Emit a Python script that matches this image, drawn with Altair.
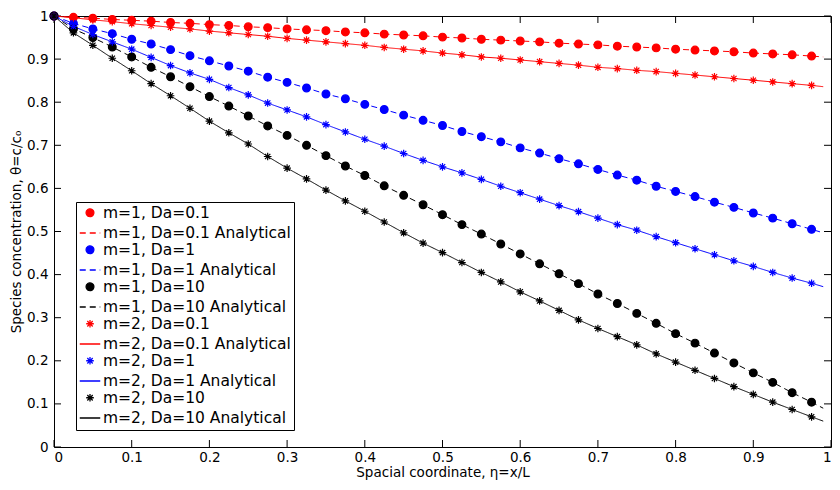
import altair as alt
import pandas as pd

# ---------------- data ----------------
x_pts = [0.0, 0.025, 0.05, 0.075, 0.1, 0.125, 0.15, 0.175, 0.2, 0.225,
         0.25, 0.275, 0.3, 0.325, 0.35, 0.375, 0.4, 0.425, 0.45, 0.475,
         0.5, 0.525, 0.55, 0.575, 0.6, 0.625, 0.65, 0.675, 0.7, 0.725,
         0.75, 0.775, 0.8, 0.825, 0.85, 0.875, 0.9, 0.925, 0.95, 0.975]

m1_da01 = [1.000, 0.997, 0.995, 0.992, 0.990, 0.988, 0.985, 0.983, 0.980, 0.978,
           0.975, 0.973, 0.970, 0.968, 0.966, 0.963, 0.961, 0.958, 0.956, 0.954,
           0.951, 0.949, 0.946, 0.944, 0.942, 0.940, 0.937, 0.935, 0.933, 0.930,
           0.928, 0.926, 0.923, 0.921, 0.919, 0.917, 0.914, 0.912, 0.910, 0.907]

m1_da1 = [1.000, 0.983, 0.970, 0.959, 0.946, 0.935, 0.922, 0.908, 0.896, 0.884,
          0.872, 0.858, 0.846, 0.833, 0.819, 0.808, 0.795, 0.783, 0.770, 0.758,
          0.746, 0.732, 0.720, 0.708, 0.694, 0.682, 0.669, 0.657, 0.644, 0.631,
          0.619, 0.605, 0.593, 0.581, 0.568, 0.556, 0.543, 0.531, 0.518, 0.505]

m1_da10 = [1.000, 0.970, 0.950, 0.928, 0.905, 0.881, 0.859, 0.836, 0.813, 0.791,
           0.768, 0.745, 0.723, 0.700, 0.676, 0.652, 0.630, 0.606, 0.584, 0.562,
           0.539, 0.516, 0.494, 0.471, 0.448, 0.425, 0.402, 0.379, 0.355, 0.333,
           0.310, 0.287, 0.263, 0.241, 0.218, 0.195, 0.172, 0.150, 0.126, 0.104]

m2_da01 = [1.000, 0.996, 0.991, 0.987, 0.982, 0.978, 0.974, 0.970, 0.965, 0.961,
           0.957, 0.953, 0.948, 0.944, 0.940, 0.936, 0.932, 0.927, 0.923, 0.919,
           0.914, 0.910, 0.905, 0.902, 0.898, 0.894, 0.890, 0.886, 0.881, 0.878,
           0.874, 0.871, 0.867, 0.863, 0.859, 0.855, 0.851, 0.847, 0.843, 0.839]

m2_da1 = [1.000, 0.976, 0.957, 0.940, 0.923, 0.904, 0.885, 0.868, 0.853, 0.834,
          0.817, 0.798, 0.782, 0.766, 0.748, 0.731, 0.714, 0.698, 0.681, 0.665,
          0.650, 0.636, 0.621, 0.605, 0.590, 0.575, 0.560, 0.546, 0.531, 0.516,
          0.503, 0.488, 0.474, 0.460, 0.446, 0.432, 0.419, 0.405, 0.392, 0.380]

m2_da10 = [1.000, 0.961, 0.932, 0.902, 0.873, 0.843, 0.815, 0.786, 0.756, 0.729,
           0.703, 0.674, 0.647, 0.622, 0.596, 0.571, 0.547, 0.522, 0.497, 0.473,
           0.451, 0.428, 0.405, 0.383, 0.360, 0.339, 0.317, 0.295, 0.275, 0.256,
           0.237, 0.216, 0.197, 0.178, 0.159, 0.140, 0.122, 0.104, 0.087, 0.070]

# analytical curves pass through the markers and end a little further right
line_end_x = 0.99
line_end_vals = [0.905, 0.497, 0.090, 0.836, 0.372, 0.060]

series = ["m=1, Da=0.1", "m=1, Da=0.1 Analytical",
          "m=1, Da=1", "m=1, Da=1 Analytical",
          "m=1, Da=10", "m=1, Da=10 Analytical",
          "m=2, Da=0.1", "m=2, Da=0.1 Analytical",
          "m=2, Da=1", "m=2, Da=1 Analytical",
          "m=2, Da=10", "m=2, Da=10 Analytical"]

x_ticks = [0, 0.1, 0.2, 0.3, 0.4, 0.5, 0.6, 0.7, 0.8, 0.9, 1]
y_ticks = [0, 0.1, 0.2, 0.3, 0.4, 0.5, 0.6, 0.7, 0.8, 0.9, 1]

# ---------------- styles ----------------
RED, BLUE, BLACK = "#FF0000", "#0000FF", "#000000"
AST = "M-1,0L1,0M0,-1L0,1M-0.7,-0.7L0.7,0.7M-0.7,0.7L0.7,-0.7"
stroke_range = [RED, RED, BLUE, BLUE, BLACK, BLACK, RED, RED, BLUE, BLUE, BLACK, BLACK]
fill_range = [RED, "transparent", BLUE, "transparent", BLACK, "transparent",
              "transparent", "transparent", "transparent", "transparent", "transparent", "transparent"]
shape_range = ["circle", "stroke", "circle", "stroke", "circle", "stroke",
               AST, "stroke", AST, "stroke", AST, "stroke"]
size_range = [60, 420, 60, 420, 60, 420, 58, 420, 58, 420, 58, 420]
dash_range = [[1, 0], [6, 4], [1, 0], [6, 4], [1, 0], [6, 4],
              [1, 0], [1, 0], [1, 0], [1, 0], [1, 0], [1, 0]]

# plot area size; the whole chart is kept inside the 840x490 window
W, H = 777, 431

# ---------------- tables ----------------
num_series = [(series[0], m1_da01), (series[2], m1_da1), (series[4], m1_da10),
              (series[6], m2_da01), (series[8], m2_da1), (series[10], m2_da10)]
ana_series = [(series[1], m1_da01), (series[3], m1_da1), (series[5], m1_da10),
              (series[7], m2_da01), (series[9], m2_da1), (series[11], m2_da10)]

pts_rows = []
for name, vals in num_series:
    for xv, yv in zip(x_pts, vals):
        pts_rows.append({"x": xv, "y": yv, "series": name})
pts_df = pd.DataFrame(pts_rows)

line_rows = []
for (name, vals), endv in zip(ana_series, line_end_vals):
    for i, (xv, yv) in enumerate(zip(x_pts, vals)):
        line_rows.append({"x": xv, "y": yv, "series": name, "o": i})
    line_rows.append({"x": line_end_x, "y": endv, "series": name, "o": len(x_pts)})
line_df = pd.DataFrame(line_rows)

legend = alt.Legend(
    title=None, orient="none", legendX=22, legendY=186,
    strokeColor="#000000", fillColor="#FFFFFF", padding=3,
    labelFont="DejaVu Sans", labelFontSize=15.5, labelColor="#000000",
    labelOffset=2, rowPadding=0, symbolStrokeWidth=1.3, labelLimit=400,
)

xscale = alt.Scale(domain=[0, 1], nice=False, zero=False)
yscale = alt.Scale(domain=[0, 1], nice=False, zero=False)

x_axis = alt.Axis(values=x_ticks, format="~g", ticks=False, domain=False, grid=False,
                  labelPadding=3, titlePadding=2,
                  title="Spacial coordinate, \u03b7=x/L")
y_axis = alt.Axis(values=y_ticks, format="~g", ticks=False, domain=False, grid=False,
                  labelPadding=6, titlePadding=3,
                  title="Species concentration, \u03b8=c/c\u2080")

stroke_enc = alt.Stroke("series:N", scale=alt.Scale(domain=series, range=stroke_range), legend=legend)

lines = alt.Chart(line_df).mark_line(strokeWidth=1).encode(
    x=alt.X("x:Q", scale=xscale, axis=x_axis),
    y=alt.Y("y:Q", scale=yscale, axis=y_axis),
    stroke=stroke_enc,
    strokeDash=alt.StrokeDash("series:N", scale=alt.Scale(domain=series, range=dash_range), legend=legend),
    detail="series:N",
    order="o:Q",
)

points = alt.Chart(pts_df).mark_point(strokeWidth=1.2, opacity=1).encode(
    x=alt.X("x:Q", scale=xscale, axis=x_axis),
    y=alt.Y("y:Q", scale=yscale, axis=y_axis),
    stroke=stroke_enc,
    fill=alt.Fill("series:N", scale=alt.Scale(domain=series, range=fill_range), legend=legend),
    shape=alt.Shape("series:N", scale=alt.Scale(domain=series, range=shape_range), legend=legend),
    size=alt.Size("series:N", scale=alt.Scale(type="ordinal", domain=series, range=size_range), legend=legend),
)

xt_df = pd.DataFrame({"x": x_ticks})
yt_df = pd.DataFrame({"y": y_ticks})
tx = alt.X("x:Q", scale=xscale, axis=x_axis)
ty = alt.Y("y:Q", scale=yscale, axis=y_axis)
tick_top = alt.Chart(xt_df).mark_rule(color="#000000", strokeWidth=1).encode(
    x=tx, y=alt.value(0), y2=alt.value(7))
tick_bot = alt.Chart(xt_df).mark_rule(color="#000000", strokeWidth=1).encode(
    x=tx, y=alt.value(H), y2=alt.value(H - 7))
tick_left = alt.Chart(yt_df).mark_rule(color="#000000", strokeWidth=1).encode(
    y=ty, x=alt.value(0), x2=alt.value(7))
tick_right = alt.Chart(yt_df).mark_rule(color="#000000", strokeWidth=1).encode(
    y=ty, x=alt.value(W), x2=alt.value(W - 7))

chart = alt.layer(tick_top, tick_bot, tick_left, tick_right, lines, points).properties(
    width=W, height=H,
    padding={"left": 46, "top": 8, "right": 1, "bottom": 35},
    autosize=alt.AutoSizeParams(type="none"),
    background="#FFFFFF",
).configure_view(
    stroke="#000000", strokeWidth=1,
).configure_axis(
    labelFont="DejaVu Sans", titleFont="DejaVu Sans",
    labelFontSize=13.5, titleFontSize=13.5, titleFontWeight="normal",
    labelColor="#000000", titleColor="#000000",
)

chart.save("out.html", embed_options={"renderer": "svg", "actions": False})
